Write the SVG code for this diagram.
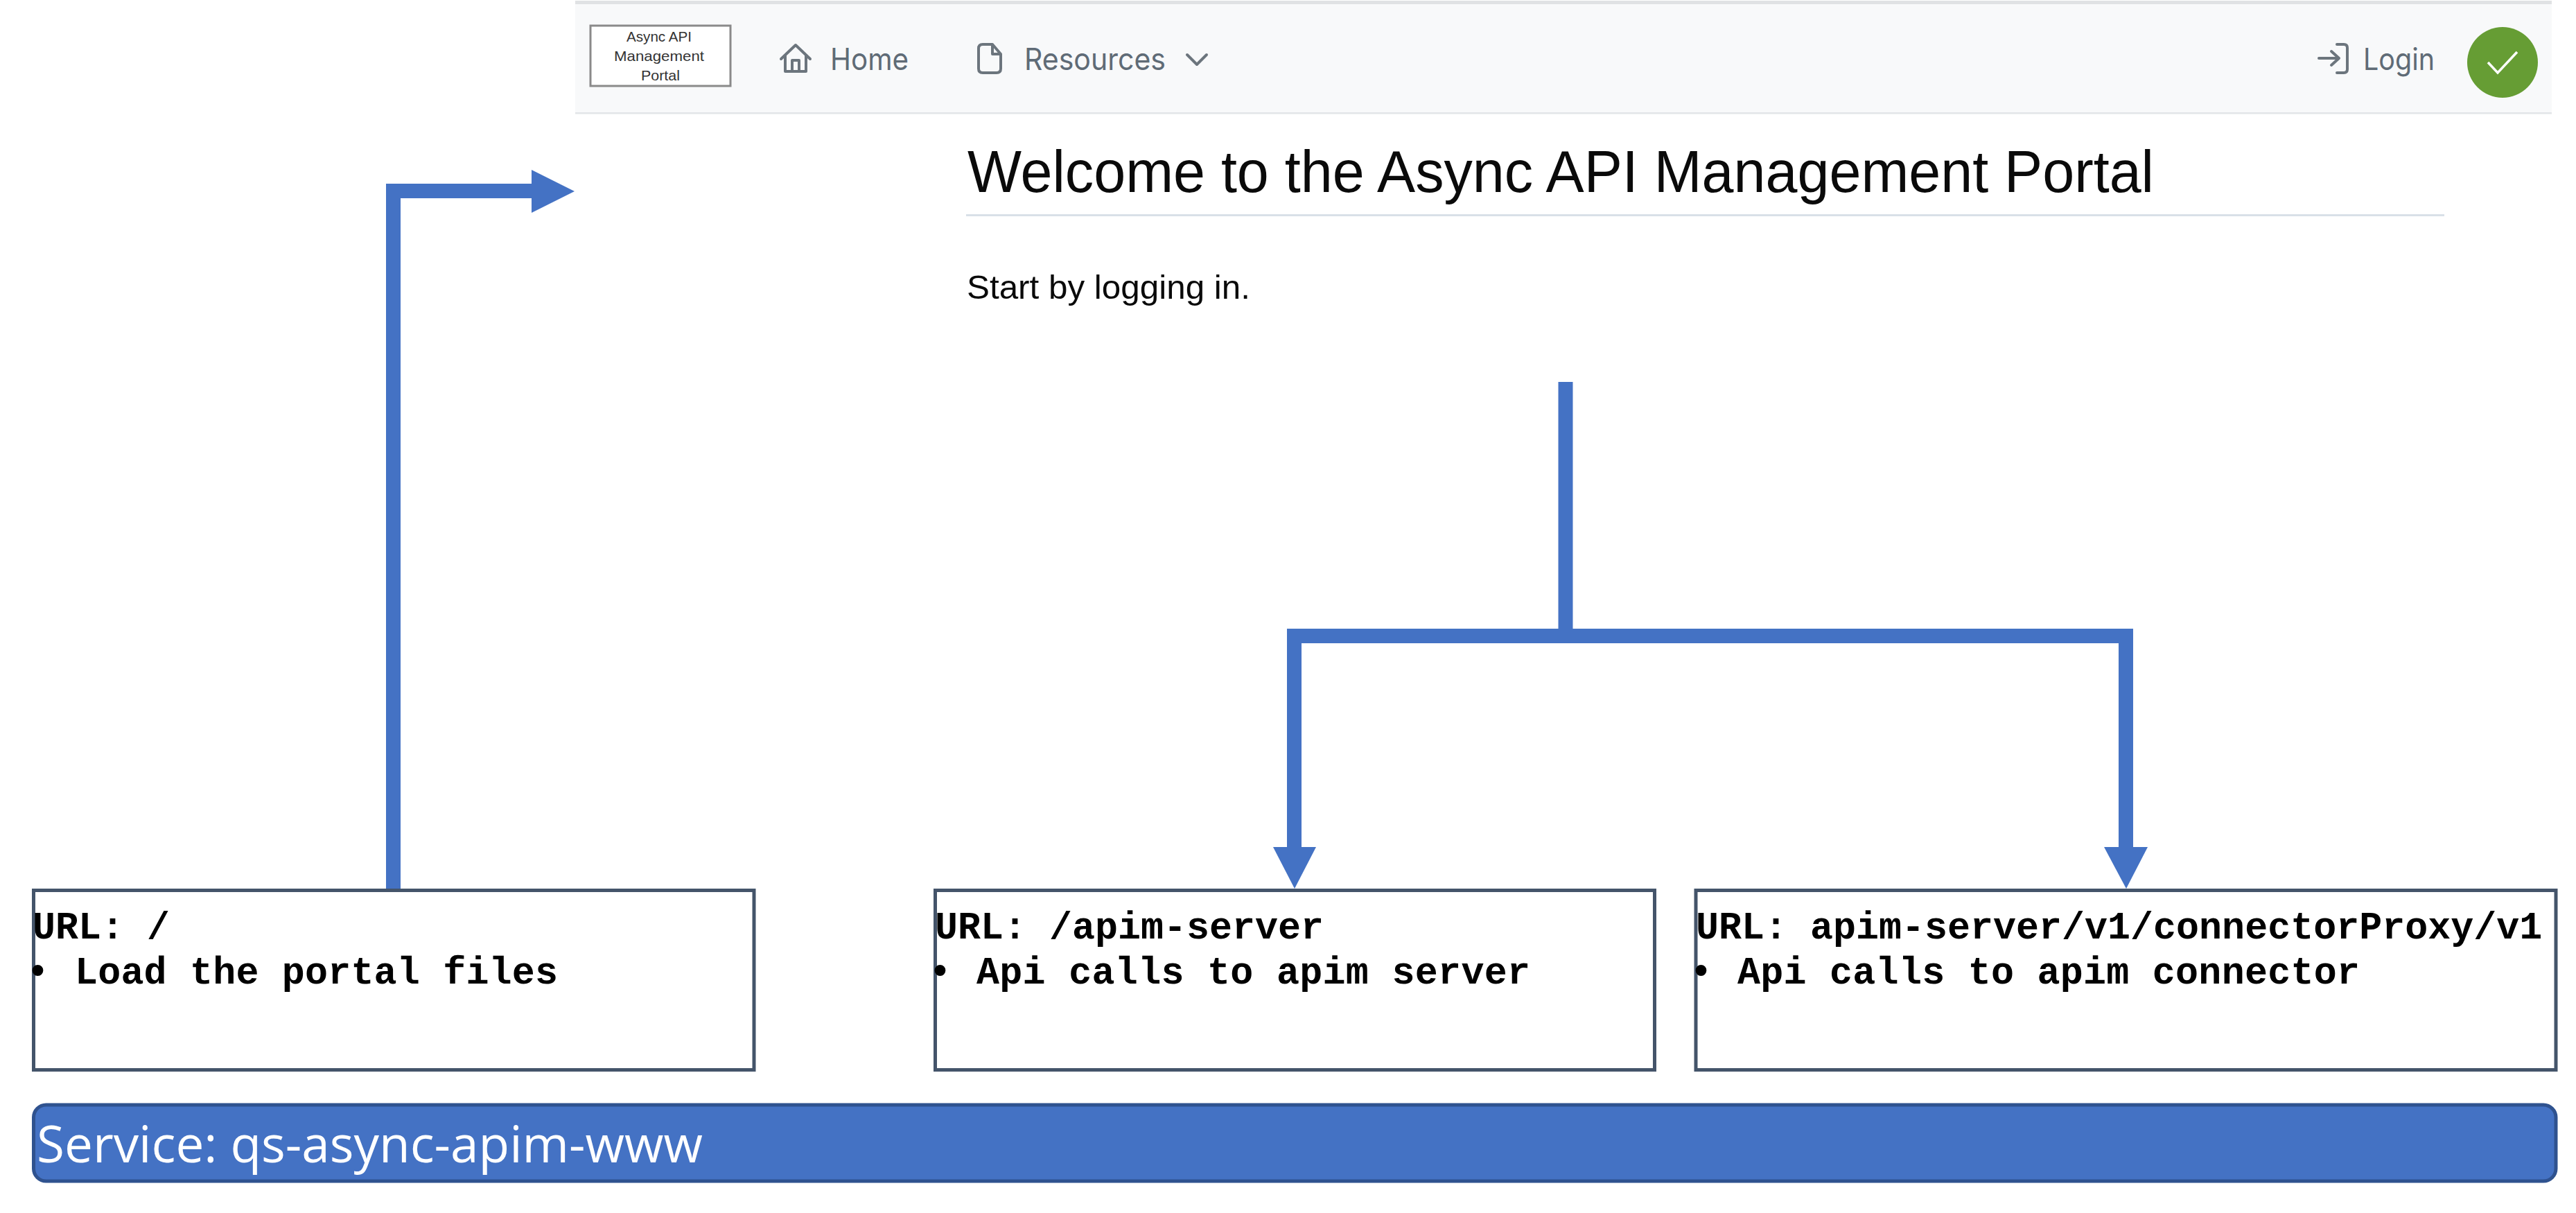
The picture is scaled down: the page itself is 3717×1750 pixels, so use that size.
<svg xmlns="http://www.w3.org/2000/svg" width="3717" height="1750" viewBox="0 0 3717 1750">
<style>
.box{fill:#fff;stroke:#44546a;stroke-width:5}
.mono{font-family:"Liberation Mono",monospace;font-size:55px;font-weight:700;fill:#000}
.nav{font-family:"Inter","Liberation Sans",sans-serif;font-size:44px;fill:#5f6b76}
.ico{fill:none;stroke:#6c757d;stroke-width:4;stroke-linejoin:round;stroke-linecap:round}
.page{font-family:"Liberation Sans",sans-serif;fill:#0a0a0a}
.logo{font-family:"Liberation Sans",sans-serif;font-size:21px;fill:#333;text-anchor:middle}
.conn{fill:none;stroke:#4472c4;stroke-width:21}
.head{fill:#4472c4}
</style>
<rect width="3717" height="1750" fill="#fff"/>
<g id="navbar">
<rect x="830" y="3" width="2852" height="160" fill="#f8f9fa"/>
<rect x="830" y="1" width="2852" height="5" fill="#e0e2e4"/>
<rect x="830" y="162" width="2852" height="2.5" fill="#e2e5e8"/>
<g id="logo"><rect x="852" y="37" width="202" height="87" fill="#fff" stroke="#8a8a8a" stroke-width="3"/>
<text class="logo" x="951" y="60" textLength="94" lengthAdjust="spacingAndGlyphs">Async API</text><text class="logo" x="951" y="88" textLength="130" lengthAdjust="spacingAndGlyphs">Management</text><text class="logo" x="953" y="116" textLength="56" lengthAdjust="spacingAndGlyphs">Portal</text></g>
<g id="nav-home"><path class="ico" d="M1127 85L1148 65L1169 85M1133 80V103H1163V80M1143 103V87H1153V103"/><text class="nav" x="1198" y="101" textLength="113" lengthAdjust="spacingAndGlyphs">Home</text></g>
<g id="nav-resources"><path class="ico" d="M1412 70Q1412 64 1418 64H1432L1444 78V99Q1444 105 1438 105H1418Q1412 105 1412 99ZM1432 64V78H1444"/><text class="nav" x="1478" y="101" textLength="204" lengthAdjust="spacingAndGlyphs">Resources</text><path class="ico" d="M1713 79L1727 93L1741 79"/></g>
<g id="nav-login"><path class="ico" d="M3346 84H3374M3364 74L3375 84L3364 94M3372 64H3382Q3387 64 3387 69V100Q3387 105 3382 105H3372"/><text class="nav" x="3410" y="101" textLength="103" lengthAdjust="spacingAndGlyphs">Login</text></g>
<g id="status"><circle cx="3611" cy="90" r="51" fill="#669d34"/><path d="M3590 90L3604 105L3632 75" fill="none" stroke="#fff" stroke-width="3.5"/></g>
</g>
<g id="welcome">
<text class="page" x="1396" y="277" font-size="85" textLength="1712" lengthAdjust="spacingAndGlyphs">Welcome to the Async API Management Portal</text>
<rect x="1394" y="309" width="2133" height="3" fill="#d9e0e8"/>
<text class="page" x="1395" y="431" font-size="48" textLength="409" lengthAdjust="spacingAndGlyphs">Start by logging in.</text>
</g>
<g id="connectors">
<path class="conn" d="M567.500 1283V275.500H770"/>
<polygon class="head" points="767,245 829,276 767,307"/>
<path class="conn" d="M2259 551V928M1867.500 1225V917.500H3067.500V1225"/>
<polygon class="head" points="1837,1222 1868,1282 1899,1222"/>
<polygon class="head" points="3036,1222 3068,1282 3099,1222"/>
</g>
<g id="box-root"><rect class="box" x="48.500" y="1284.500" width="1039.500" height="259"/>
<text class="mono" x="47" y="1354">URL: /</text><text class="mono" y="1419"><tspan x="38">•</tspan><tspan x="108" textLength="697">Load the portal files</tspan></text></g>
<g id="box-server"><rect class="box" x="1349.500" y="1284.500" width="1038" height="259"/>
<text class="mono" x="1349" y="1354">URL: /apim-server</text><text class="mono" y="1419"><tspan x="1340">•</tspan><tspan x="1409" textLength="799">Api calls to apim server</tspan></text></g>
<g id="box-connector"><rect class="box" x="2447" y="1284.500" width="1241" height="259"/>
<text class="mono" x="2447" y="1354">URL: apim-server/v1/connectorProxy/v1</text><text class="mono" y="1419"><tspan x="2438">•</tspan><tspan x="2507" textLength="898">Api calls to apim connector</tspan></text></g>
<g id="service"><rect x="48.500" y="1594" width="3639.500" height="110" rx="18" fill="#4472c4" stroke="#2f528f" stroke-width="5"/>
<text x="53" y="1677" font-family="Open Sans, sans-serif" font-size="74" fill="#fff" textLength="961" lengthAdjust="spacingAndGlyphs">Service: qs-async-apim-www</text></g>
</svg>
